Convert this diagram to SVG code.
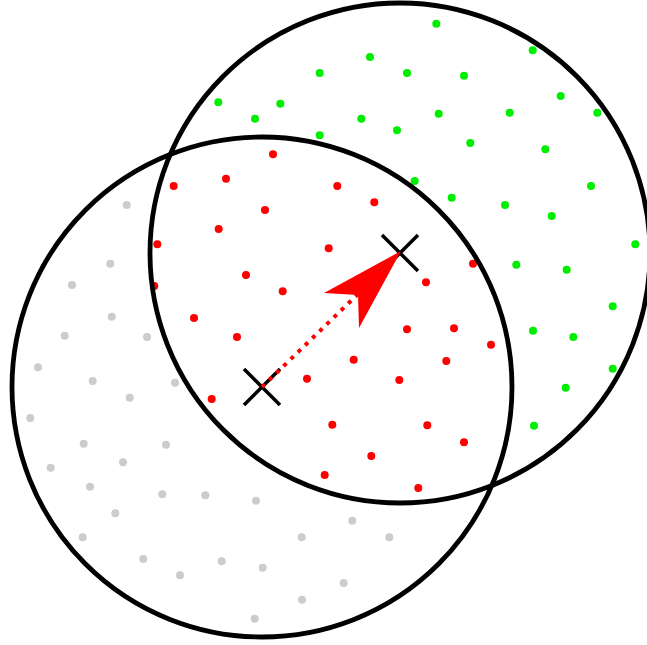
<svg xmlns="http://www.w3.org/2000/svg" width="647" height="645" viewBox="0 0 647 645">
<style>
.ring{fill:none;stroke:#000;stroke-width:4.8}
.r{fill:#ff0000}
.g{fill:#00ee00}
.k{fill:#cccccc}
.x{stroke:#000;stroke-width:3.5;fill:none}
circle{r:4px}
</style>
<rect width="647" height="645" fill="#fff"/>
<g id="gray-dots" class="k">
<circle cx="126.7" cy="205" r="4"/><circle cx="110.3" cy="263.7" r="4"/><circle cx="72" cy="285" r="4"/><circle cx="111.7" cy="316.7" r="4"/><circle cx="64.7" cy="335.7" r="4"/><circle cx="147" cy="337" r="4"/><circle cx="38" cy="367.3" r="4"/><circle cx="92.7" cy="381" r="4"/><circle cx="175" cy="382.7" r="4"/><circle cx="129.7" cy="397.7" r="4"/><circle cx="30.3" cy="418" r="4"/><circle cx="83.7" cy="443.7" r="4"/><circle cx="166" cy="444.7" r="4"/><circle cx="50.7" cy="467.7" r="4"/><circle cx="123" cy="462.3" r="4"/><circle cx="90" cy="486.7" r="4"/><circle cx="162.3" cy="494.3" r="4"/><circle cx="205.3" cy="495.3" r="4"/><circle cx="115.3" cy="513.3" r="4"/><circle cx="82.7" cy="537.3" r="4"/><circle cx="143.3" cy="559" r="4"/><circle cx="180" cy="575.3" r="4"/><circle cx="256" cy="500.7" r="4"/><circle cx="352.3" cy="520.7" r="4"/><circle cx="301.7" cy="537.3" r="4"/><circle cx="389.3" cy="537.3" r="4"/><circle cx="221.7" cy="561.3" r="4"/><circle cx="262.7" cy="567.7" r="4"/><circle cx="343.7" cy="583" r="4"/><circle cx="302" cy="599.7" r="4"/><circle cx="254.7" cy="618.7" r="4"/>
</g>
<g id="green-dots" class="g">
<circle cx="218.3" cy="102.3" r="4"/><circle cx="370" cy="57" r="4"/><circle cx="319.7" cy="73" r="4"/><circle cx="407" cy="73" r="4"/><circle cx="280.3" cy="103.7" r="4"/><circle cx="255" cy="118.7" r="4"/><circle cx="361.3" cy="118.7" r="4"/><circle cx="397" cy="130.3" r="4"/><circle cx="319.7" cy="135.3" r="4"/><circle cx="414.7" cy="181" r="4"/><circle cx="436.3" cy="23.7" r="4"/><circle cx="532.7" cy="50.3" r="4"/><circle cx="464" cy="75.7" r="4"/><circle cx="560.7" cy="96" r="4"/><circle cx="438.7" cy="113.7" r="4"/><circle cx="509.7" cy="112.7" r="4"/><circle cx="597.3" cy="112.7" r="4"/><circle cx="470.3" cy="143" r="4"/><circle cx="545.3" cy="149.3" r="4"/><circle cx="591" cy="186" r="4"/><circle cx="451.7" cy="197.7" r="4"/><circle cx="505" cy="205" r="4"/><circle cx="551.7" cy="216" r="4"/><circle cx="635.3" cy="244.3" r="4"/><circle cx="516.3" cy="264.7" r="4"/><circle cx="566.7" cy="269.7" r="4"/><circle cx="612.7" cy="306.3" r="4"/><circle cx="533" cy="330.7" r="4"/><circle cx="573.3" cy="337" r="4"/><circle cx="612.7" cy="368.7" r="4"/><circle cx="565.7" cy="387.7" r="4"/><circle cx="534" cy="425.7" r="4"/>
</g>
<g id="red-dots" class="r">
<circle cx="173.7" cy="186" r="4"/><circle cx="273" cy="154.3" r="4"/><circle cx="226" cy="178.7" r="4"/><circle cx="337.3" cy="186" r="4"/><circle cx="374.3" cy="202.3" r="4"/><circle cx="265" cy="210" r="4"/><circle cx="157.3" cy="244.3" r="4"/><circle cx="154.3" cy="286" r="4"/><circle cx="194" cy="318" r="4"/><circle cx="211.7" cy="399" r="4"/><circle cx="218.7" cy="229" r="4"/><circle cx="328.7" cy="248.3" r="4"/><circle cx="246" cy="275" r="4"/><circle cx="282.7" cy="291.3" r="4"/><circle cx="426" cy="282.3" r="4"/><circle cx="237" cy="337" r="4"/><circle cx="407" cy="329.3" r="4"/><circle cx="353.7" cy="359.7" r="4"/><circle cx="307" cy="378.7" r="4"/><circle cx="399.3" cy="380" r="4"/><circle cx="332.3" cy="424.7" r="4"/><circle cx="427.3" cy="425.3" r="4"/><circle cx="473" cy="263.7" r="4"/><circle cx="454" cy="328.3" r="4"/><circle cx="491" cy="344.7" r="4"/><circle cx="446.3" cy="361" r="4"/><circle cx="464" cy="442.3" r="4"/><circle cx="371.3" cy="456" r="4"/><circle cx="324.7" cy="475" r="4"/><circle cx="418.3" cy="488" r="4"/>
</g>
<g id="circle-left"><circle class="ring" cx="262" cy="387" r="250" style="r:250px"/></g>
<g id="circle-right"><circle class="ring" cx="400" cy="253" r="250" style="r:250px"/></g>
<g id="cross-a"><path class="x" d="M244,369L280,405M244,405L280,369"/></g>
<g id="cross-b"><path class="x" d="M382,235L418,271M382,271L418,235"/></g>
<g id="connectors">
<line x1="262" y1="387" x2="358" y2="294" stroke="#ff0000" stroke-width="4" stroke-dasharray="4 6"/>
<path d="M401,251L324,293L358,295L359,328Z" fill="#ff0000"/>
</g>
</svg>
